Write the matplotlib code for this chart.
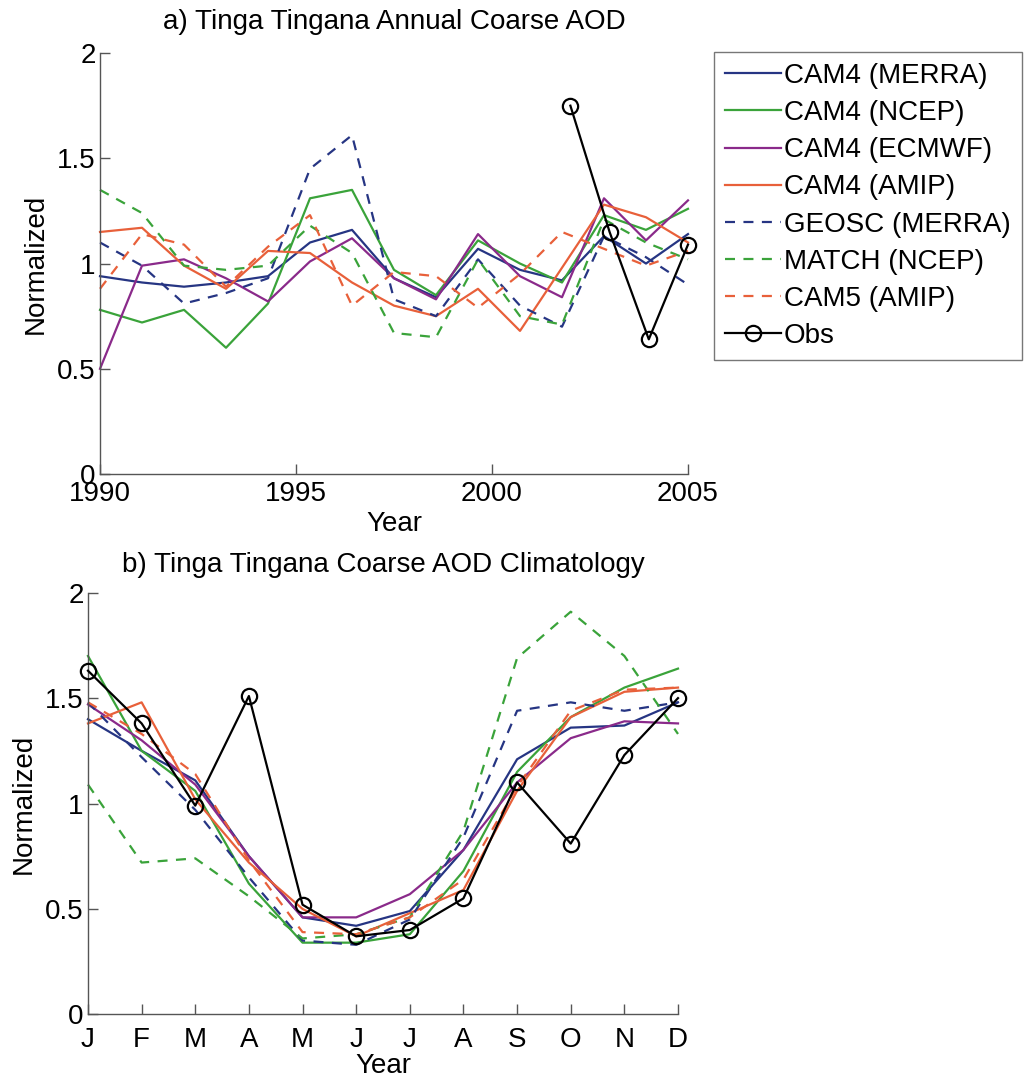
import numpy as np
import matplotlib
matplotlib.use("Agg")
import matplotlib.pyplot as plt

plt.rcParams['font.family'] = ['Liberation Sans', 'DejaVu Sans']

# ---- Panel a: annual means (15 model samples spanning 1990-2005) ----
years_model = np.linspace(1990, 2005, 15)
years_obs = [2002, 2003, 2004, 2005]

cam4_merra_a = [0.94, 0.91, 0.89, 0.91, 0.94, 1.10, 1.16, 0.93, 0.84, 1.07, 0.97, 0.92, 1.13, 1.00, 1.14]
cam4_ncep_a = [0.78, 0.72, 0.78, 0.60, 0.81, 1.31, 1.35, 0.97, 0.85, 1.11, 1.00, 0.91, 1.23, 1.16, 1.26]
cam4_ecmwf_a = [0.50, 0.99, 1.02, 0.93, 0.82, 1.01, 1.12, 0.93, 0.83, 1.14, 0.94, 0.84, 1.31, 1.11, 1.30]
cam4_amip_a = [1.15, 1.17, 0.99, 0.88, 1.06, 1.05, 0.91, 0.80, 0.75, 0.88, 0.68, 0.98, 1.28, 1.22, 1.10]
geosc_merra_a = [1.10, 0.99, 0.81, 0.86, 0.93, 1.45, 1.61, 0.83, 0.75, 1.02, 0.80, 0.70, 1.13, 1.03, 0.90]
match_ncep_a = [1.35, 1.24, 0.99, 0.97, 0.99, 1.18, 1.05, 0.67, 0.65, 1.02, 0.75, 0.71, 1.21, 1.10, 1.02]
cam5_amip_a = [0.88, 1.14, 1.09, 0.89, 1.08, 1.23, 0.80, 0.96, 0.94, 0.79, 0.95, 1.15, 1.07, 0.99, 1.06]
obs_a = [1.75, 1.15, 0.64, 1.09]

# ---- Panel b: monthly climatology ----
month_labels = ['J', 'F', 'M', 'A', 'M', 'J', 'J', 'A', 'S', 'O', 'N', 'D']
months = np.arange(1, 13)

cam4_merra_b = [1.40, 1.25, 1.11, 0.75, 0.46, 0.42, 0.49, 0.78, 1.21, 1.36, 1.37, 1.48]
cam4_ncep_b = [1.70, 1.25, 1.06, 0.62, 0.34, 0.34, 0.38, 0.68, 1.15, 1.41, 1.55, 1.64]
cam4_ecmwf_b = [1.47, 1.30, 1.09, 0.75, 0.46, 0.46, 0.57, 0.78, 1.10, 1.31, 1.39, 1.38]
cam4_amip_b = [1.38, 1.48, 1.02, 0.72, 0.50, 0.37, 0.48, 0.59, 1.06, 1.41, 1.53, 1.55]
geosc_merra_b = [1.48, 1.22, 0.97, 0.65, 0.35, 0.33, 0.45, 0.84, 1.44, 1.48, 1.44, 1.48]
match_ncep_b = [1.09, 0.72, 0.74, 0.56, 0.36, 0.38, 0.46, 0.87, 1.69, 1.91, 1.70, 1.33]
cam5_amip_b = [1.48, 1.33, 1.14, 0.73, 0.39, 0.38, 0.46, 0.64, 1.08, 1.44, 1.54, 1.55]
obs_b = [1.63, 1.38, 0.99, 1.51, 0.52, 0.37, 0.40, 0.55, 1.10, 0.81, 1.23, 1.50]

NAVY = '#263583'
GREEN = '#3aa33a'
PURPLE = '#8a2a8a'
ORANGE = '#e8603a'

series_names = ['CAM4 (MERRA)', 'CAM4 (NCEP)', 'CAM4 (ECMWF)', 'CAM4 (AMIP)',
                'GEOSC (MERRA)', 'MATCH (NCEP)', 'CAM5 (AMIP)']
styles = [(NAVY, '-'), (GREEN, '-'), (PURPLE, '-'), (ORANGE, '-'),
          (NAVY, '--'), (GREEN, '--'), (ORANGE, '--')]

FS = 20
LW = 1.6
DASHES = (4.5, 3.8)
MS = 11

fig = plt.figure(figsize=(10.29, 10.83), dpi=100)
ax_a = fig.add_axes([0.0972, 0.5623, 0.5714, 0.3887])
ax_b = fig.add_axes([0.0855, 0.0634, 0.5734, 0.3893])


def style_axes(ax, xpad):
    for side in ('top', 'right'):
        ax.spines[side].set_visible(False)
    for side in ('left', 'bottom'):
        ax.spines[side].set_color('#555555')
        ax.spines[side].set_linewidth(1.0)
    ax.tick_params(direction='in', length=7, width=1.0, color='#555555',
                   labelsize=FS)
    ax.tick_params(axis='y', pad=3)
    ax.tick_params(axis='x', pad=xpad)
    ax.set_ylim(0, 2)
    ax.set_yticks([0, 0.5, 1, 1.5, 2])
    ax.set_yticklabels(['0', '0.5', '1', '1.5', '2'])
    ax.set_ylabel('Normalized', fontsize=FS, labelpad=6)


handles = []
data_a = [cam4_merra_a, cam4_ncep_a, cam4_ecmwf_a, cam4_amip_a,
          geosc_merra_a, match_ncep_a, cam5_amip_a]
for vals, (c, ls), name in zip(data_a, styles, series_names):
    ln, = ax_a.plot(years_model, vals, color=c, lw=LW, label=name, clip_on=False)
    if ls == '--':
        ln.set_dashes(DASHES)
    handles.append(ln)
obs_line, = ax_a.plot(years_obs, obs_a, color='black', lw=LW, marker='o',
                      markersize=MS, markerfacecolor='none', markeredgewidth=1.6,
                      label='Obs', clip_on=False, zorder=5)
handles.append(obs_line)

ax_a.set_xlim(1990, 2005)
ax_a.set_xticks([1990, 1995, 2000, 2005])
style_axes(ax_a, xpad=5)
ax_a.set_xlabel('Year', fontsize=FS, labelpad=3)
ax_a.set_title('a) Tinga Tingana Annual Coarse AOD', fontsize=FS, pad=17)

data_b = [cam4_merra_b, cam4_ncep_b, cam4_ecmwf_b, cam4_amip_b,
          geosc_merra_b, match_ncep_b, cam5_amip_b]
for vals, (c, ls) in zip(data_b, styles):
    ln, = ax_b.plot(months, vals, color=c, lw=LW, clip_on=False)
    if ls == '--':
        ln.set_dashes(DASHES)
ax_b.plot(months, obs_b, color='black', lw=LW, marker='o', markersize=MS,
          markerfacecolor='none', markeredgewidth=1.6, clip_on=False, zorder=5)

ax_b.set_xlim(1, 12)
ax_b.set_xticks(months)
ax_b.set_xticklabels(month_labels)
style_axes(ax_b, xpad=9)
ax_b.set_xlabel('Year', fontsize=FS, labelpad=0)
ax_b.set_title('b) Tinga Tingana Coarse AOD Climatology', fontsize=FS, pad=15)

leg = fig.legend(handles=handles, loc='upper left',
                 bbox_to_anchor=(714 / 1029, 1 - 52 / 1083),
                 bbox_transform=fig.transFigure, fontsize=FS,
                 frameon=True, fancybox=False, borderaxespad=0,
                 handlelength=2.0, handletextpad=0.12, labelspacing=0.4,
                 borderpad=0.4)
leg.get_frame().set_edgecolor('#555555')
leg.get_frame().set_linewidth(1.0)

fig.savefig('out.png', dpi=100)
